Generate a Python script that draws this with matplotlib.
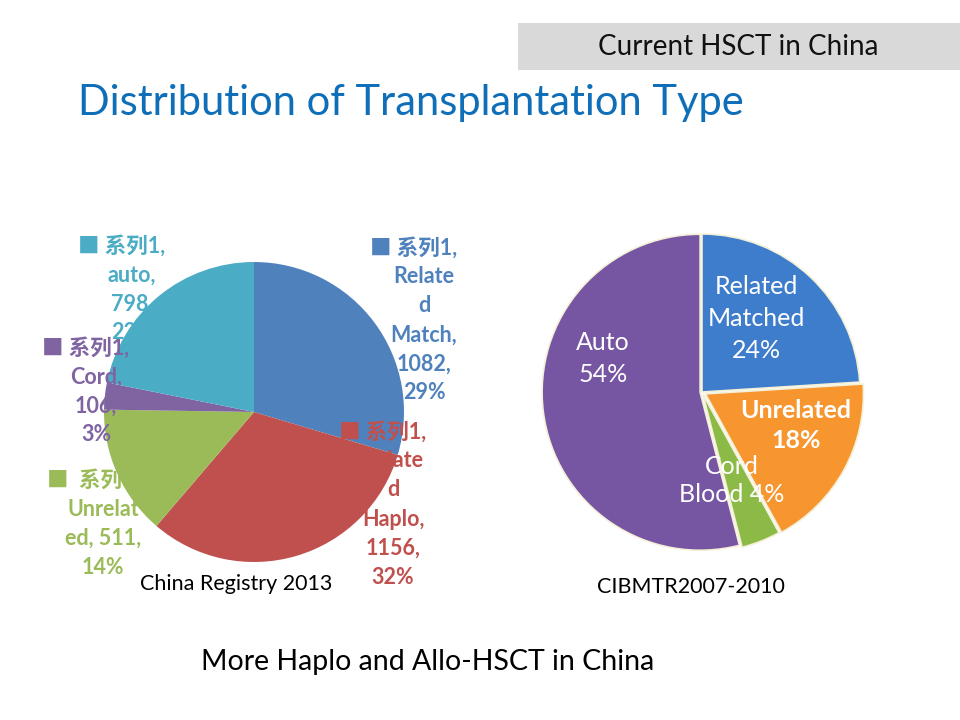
import matplotlib
matplotlib.use("Agg")
import matplotlib.pyplot as plt
from matplotlib.patches import Rectangle

# ---------------- data ----------------
left_categories = ["Related Match", "Related Haplo", "Unrelated", "Cord", "auto"]
left_values = [1082, 1156, 511, 106, 798]
left_pcts = ["29%", "32%", "14%", "3%", "22%"]
left_series = "系列1"
left_colors = ["#4F81BD", "#C0504D", "#9BBB59", "#8064A2", "#4BACC6"]

right_categories = ["Related\nMatched", "Unrelated", "Cord\nBlood", "Auto"]
right_values = [24, 18, 4, 54]
right_colors = ["#3E7DCC", "#F7962F", "#8CBA47", "#7655A2"]

title = "Distribution of Transplantation Type"
header = "Current HSCT in China"
left_caption = "China Registry 2013"
right_caption = "CIBMTR2007-2010"
bottom_note = "More Haplo and Allo-HSCT in China"

W, H = 960, 720
FONT = ["Lato", "Noto Sans CJK SC", "DejaVu Sans"]
plt.rcParams["font.family"] = FONT

fig = plt.figure(figsize=(W / 100, H / 100), dpi=100)
fig.patch.set_facecolor("white")


def fx(px):
    return px / W


def fy(py):
    return 1 - py / H


def make_axes(x0, y0, x1, y1, cx, cy, r):
    ax = fig.add_axes([fx(x0), fy(y1), (x1 - x0) / W, (y1 - y0) / H])
    return ax, (lambda px: (px - cx) / r), (lambda py: (cy - py) / r), (x0, y0, x1, y1, cx, cy, r)


def set_limits(ax, geo):
    x0, y0, x1, y1, cx, cy, r = geo
    ax.set_xlim((x0 - cx) / r, (x1 - cx) / r)
    ax.set_ylim((cy - y1) / r, (cy - y0) / r)
    ax.set_aspect("auto")
    ax.axis("off")


# ---------------- header / title ----------------
fig.patches.append(Rectangle((fx(518), fy(70)), (W - 518) / W, 47 / H,
                             transform=fig.transFigure, facecolor="#D9D9D9",
                             edgecolor="none", zorder=0))
fig.text(fx(738), fy(47), header, ha="center", va="center", fontsize=20, color="#111111")
fig.text(fx(78), fy(103), title, ha="left", va="center", fontsize=30, color="#0E6EB8")

# ---------------- left pie ----------------
axL, dxL, dyL, geoL = make_axes(20, 215, 480, 610, 254, 412, 150)
wedges, _ = axL.pie(left_values, colors=left_colors, startangle=90, counterclock=False,
                    radius=1, wedgeprops=dict(linewidth=0))
set_limits(axL, geoL)

label_lines = [
    ["Relate", "d", "Match,"],
    ["Relate", "d", "Haplo,"],
    ["Unrelat", "ed, 511,"],
    ["Cord,"],
    ["auto,"],
]
# (centre x of block, y of first line) in pixels
label_pos = [(424, 248), (393, 432), (103, 480), (96, 348), (132, 246)]
line_step = 29
LFS = 15.5
for i, cat in enumerate(left_categories):
    cx, y0 = label_pos[i]
    col = left_colors[i]
    lines = list(label_lines[i])
    if cat not in ("Unrelated",):
        lines = lines + [f"{left_values[i]},"]
    lines = lines + [left_pcts[i]]
    first = "■ " + left_series + "," if i != 2 else "■  " + left_series + ","
    axL.text(dxL(cx - 10), dyL(y0), first, ha="center", va="center", fontsize=LFS,
             fontweight="bold", color=col, zorder=5, clip_on=False)
    for k, ln in enumerate(lines):
        axL.text(dxL(cx), dyL(y0 + line_step * (k + 1)), ln, ha="center", va="center",
                 fontsize=LFS, fontweight="bold", color=col, zorder=5, clip_on=False)

fig.text(fx(236), fy(584), left_caption, ha="center", va="center", fontsize=15.5, color="black")

# ---------------- right pie ----------------
axR, dxR, dyR, geoR = make_axes(530, 225, 880, 565, 702, 392, 158)
wedgesR, _ = axR.pie(right_values, colors=right_colors, startangle=90, counterclock=False,
                     radius=1, explode=[0.0, 0.025, 0.015, 0.012],
                     wedgeprops=dict(edgecolor="#F4F0D8", linewidth=1.2))
set_limits(axR, geoR)

r_text = [
    (756, [286, 318, 350], ["Related", "Matched", "24%"], "normal"),
    (796, [410, 441], ["Unrelated", "18%"], "bold"),
    (732, [466, 494], ["Cord", "Blood 4%"], "normal"),
    (603, [342, 374], ["Auto", "54%"], "normal"),
]
for cx, ys, lines, wt in r_text:
    for y, ln in zip(ys, lines):
        axR.text(dxR(cx), dyR(y), ln, ha="center", va="center", fontsize=18,
                 fontweight=wt, color="white", zorder=5)

fig.text(fx(691), fy(587), right_caption, ha="center", va="center", fontsize=15.5, color="black")

# ---------------- bottom note ----------------
fig.text(fx(428), fy(662), bottom_note, ha="center", va="center", fontsize=20.5, color="black")

fig.savefig("out.png", dpi=100)
